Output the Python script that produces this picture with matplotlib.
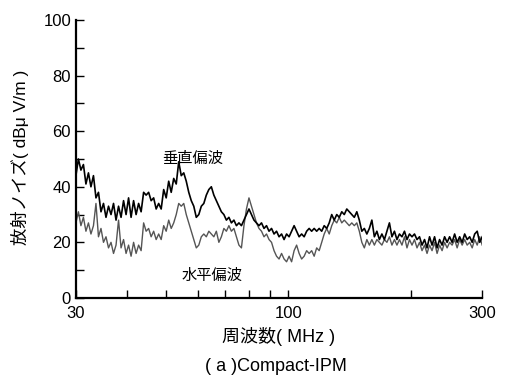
import matplotlib
matplotlib.use('Agg')
import matplotlib.pyplot as plt
from matplotlib.ticker import FixedLocator, NullFormatter, FixedFormatter
import numpy as np

plt.rcParams['font.family'] = ['Liberation Sans', 'Noto Sans CJK JP', 'DejaVu Sans']

# measured radiated noise, dBuV/m (sweep 30 -> 300 MHz)
vertical = [44, 50, 46, 48, 41, 45, 40, 44, 36, 38, 31, 34, 29, 33, 30, 34, 28, 33, 29, 35,
            30, 36, 29, 35, 30, 34, 31, 38, 37, 38, 35, 36, 32, 34, 32, 39, 36, 42, 38, 43,
            41, 49, 44, 45, 42, 38, 35, 33, 29, 30, 33, 34, 37, 39, 40, 37, 35, 33, 31, 30,
            28, 29, 27, 28, 26, 27, 26, 28, 30, 32, 30, 28, 27, 26, 27, 25, 26, 24, 25, 23,
            24, 22, 23, 21, 23, 22, 24, 26, 24, 22, 23, 22, 24, 25, 24, 25, 24, 25, 24, 26,
            25, 27, 30, 28, 30, 29, 31, 30, 32, 31, 30, 29, 31, 28, 24, 25, 23, 25, 28, 22,
            24, 21, 23, 21, 24, 27, 22, 24, 21, 23, 22, 24, 21, 23, 22, 23, 21, 22, 19, 21,
            18, 22, 19, 22, 18, 21, 19, 22, 20, 22, 20, 23, 20, 22, 20, 23, 21, 22, 20, 23,
            24, 20, 22]
horizontal = [27, 31, 26, 29, 24, 27, 23, 26, 34, 22, 25, 20, 22, 18, 20, 16, 19, 28, 18, 21,
              16, 19, 15, 20, 16, 19, 17, 27, 24, 25, 22, 24, 21, 23, 21, 26, 24, 28, 25, 27,
              30, 34, 33, 34, 30, 27, 24, 21, 18, 19, 22, 23, 22, 24, 23, 22, 24, 20, 22, 25,
              24, 26, 24, 25, 22, 19, 18, 26, 32, 36, 33, 30, 27, 25, 24, 22, 23, 21, 20, 17,
              15, 14, 16, 14, 13, 15, 13, 17, 19, 16, 14, 15, 17, 16, 17, 15, 18, 17, 20, 23,
              25, 23, 26, 28, 27, 29, 27, 28, 27, 26, 27, 26, 27, 24, 20, 18, 21, 19, 21, 19,
              21, 20, 19, 21, 20, 22, 19, 21, 19, 21, 19, 22, 18, 21, 19, 21, 18, 20, 17, 19,
              16, 19, 17, 20, 16, 19, 17, 20, 18, 20, 19, 21, 18, 21, 19, 21, 19, 20, 18, 21,
              19, 22, 19]
freq = np.geomspace(30, 300, len(vertical))

x_major = [30, 100, 300]
x_minor = [40, 50, 60, 70, 80, 90, 200]
y_major = [0, 20, 40, 60, 80, 100]
y_minor = [10, 30, 50, 70, 90]

fig = plt.figure(figsize=(5.06, 3.79), dpi=100)
ax = fig.add_axes([0.150, 0.214, 0.803, 0.733])

ax.plot(freq, horizontal, color='#555555', lw=1.0)
ax.plot(freq, vertical, color='black', lw=1.2)

ax.set_xscale('log')
ax.set_xlim(30, 300)
ax.set_ylim(0, 100)
ax.xaxis.set_major_locator(FixedLocator(x_major))
ax.xaxis.set_major_formatter(FixedFormatter([str(v) for v in x_major]))
ax.xaxis.set_minor_locator(FixedLocator(x_minor))
ax.xaxis.set_minor_formatter(NullFormatter())
ax.yaxis.set_major_locator(FixedLocator(y_major))
ax.yaxis.set_minor_locator(FixedLocator(y_minor))

for s in ['top', 'right']:
    ax.spines[s].set_visible(False)
for s in ['left', 'bottom']:
    ax.spines[s].set_linewidth(1.6)
ax.tick_params(which='both', direction='in', length=6, width=1, labelsize=12)
ax.tick_params(axis='x', pad=6)

ax.set_xlabel('周波数( MHz )', fontsize=13, labelpad=4)
ax.set_ylabel('放射ノイズ( dBμ V/m )', fontsize=12.5)
ax.yaxis.set_label_coords(-0.115, 0.507)

ax.text(58, 50, '垂直偏波', fontsize=11, ha='center', va='center')
ax.text(65, 8, '水平偏波', fontsize=11, ha='center', va='center')

fig.text(0.546, 0.032, '( a )Compact-IPM', fontsize=13, ha='center', va='center')

fig.savefig('out.png', dpi=100)
